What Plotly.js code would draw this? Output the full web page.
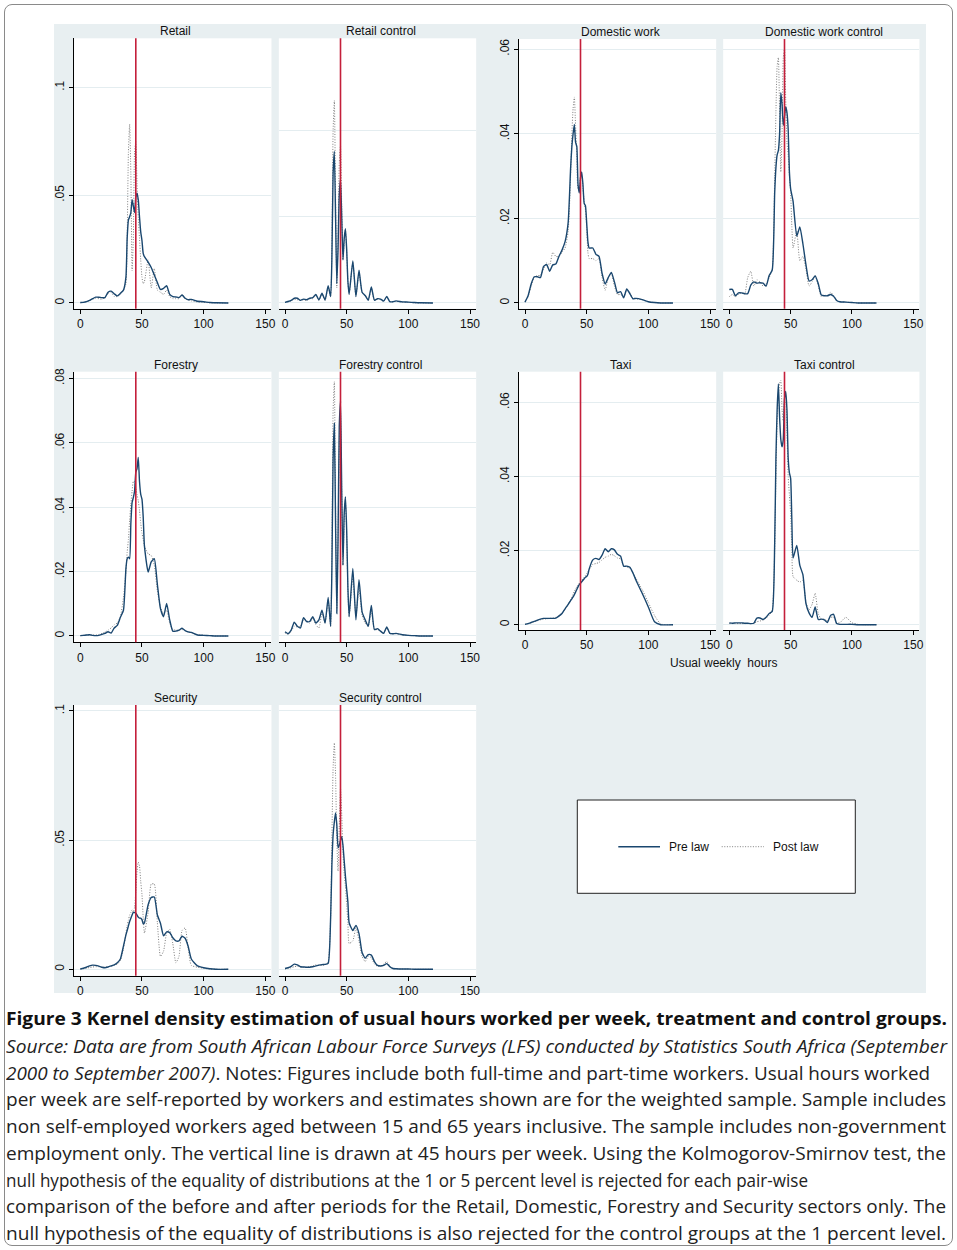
<!DOCTYPE html>
<html><head><meta charset="utf-8">
<script src="https://cdn.plot.ly/plotly-3.0.1.min.js"></script>
<style>
body{margin:0;background:#fff;width:957px;height:1250px;position:relative;overflow:hidden;}
#frame{position:absolute;left:4px;top:4px;width:947px;height:1240px;border:1px solid #8a8a8a;border-radius:8px;}
#bg{position:absolute;left:54px;top:24px;width:872px;height:969px;background:#e8eff1;}
#chart{position:absolute;left:0;top:0;width:957px;height:1005px;}
.cap{position:absolute;left:6px;white-space:nowrap;font-family:'Open Sans',sans-serif;font-size:18.5px;line-height:22px;color:#222;transform-origin:0 50%;}
.cap b{font-weight:700;color:#111;}
</style></head><body>
<div id="frame"></div>
<div id="bg"></div>
<div id="chart"></div>
<div id="caption"></div>
<script>
// ---- data (usual weekly hours grid and kernel density values) ----
const hours = [0,2.5,5,7.5,10,12.5,15,17.5,20,22.5,25,27.5,30,32.5,35,
  37,38,39,40,41,42,43,44,45,46,47,48,49,50,51,52,
  55,57.5,60,62.5,65,67.5,70,72.5,75,77.5,80,82.5,85,87.5,90,
  95,100,105,110,120];

const retailPre = [0.0002,0.0003,0.0006,0.0012,0.002,0.0027,0.0027,0.0025,0.0025,0.005,0.0055,0.0043,0.0033,0.0045,0.006,
  0.012,0.03,0.0385,0.04,0.042,0.048,0.045,0.042,0.049,0.051,0.048,0.04,0.033,0.029,0.023,0.0215,
  0.019,0.0165,0.013,0.0095,0.0063,0.0068,0.008,0.004,0.003,0.0028,0.0025,0.0037,0.0022,0.0015,0.0017,
  0.0008,0.0006,0.0002,0.0001,0];
const retailPost = [0.0001,0.0003,0.0006,0.0012,0.0018,0.0022,0.002,0.0018,0.0025,0.0045,0.005,0.003,0.003,0.004,0.006,
  0.009,0.03,0.07,0.083,0.06,0.015,0.03,0.07,0.075,0.055,0.04,0.03,0.02,0.012,0.009,0.01,
  0.02,0.007,0.016,0.006,0.005,0.004,0.006,0.003,0.002,0.002,0.002,0.004,0.002,0.0015,0.001,
  0.0005,0.0003,0.0001,0,0];
const retailCtrlPre = [0.0003,0.0007,0.0012,0.0022,0.0022,0.0012,0.0018,0.0015,0.0022,0.0025,0.004,0.0014,0.0045,0.0014,0.008,
  0.003,0.02,0.06,0.0704,0.04,0.009,0.025,0.05,0.0575,0.04,0.02,0.03,0.0345,0.025,0.01,0.004,
  0.0195,0.003,0.0152,0.005,0.0035,0.0013,0.0074,0.0013,0.002,0.0018,0.0009,0.003,0.0006,0.0006,0.001,
  0.0005,0.0004,0.0002,0.0001,0];
const retailCtrlPost = [0.0002,0.0005,0.001,0.0018,0.0015,0.0012,0.0015,0.0012,0.002,0.002,0.0035,0.0012,0.004,0.0012,0.0075,
  0.003,0.025,0.08,0.094,0.05,0.007,0.03,0.065,0.073,0.045,0.02,0.028,0.034,0.024,0.01,0.004,
  0.019,0.003,0.014,0.005,0.0035,0.0012,0.007,0.0012,0.002,0.0015,0.0008,0.003,0.0006,0.0005,0.0008,
  0.0004,0.0003,0.0001,0,0];
const domesticPre = [0.0002,0.0017,0.0045,0.0062,0.0062,0.006,0.0086,0.0091,0.0075,0.009,0.0092,0.011,0.0125,0.0145,0.019,
  0.032,0.037,0.04,0.0422,0.038,0.037,0.028,0.026,0.0295,0.031,0.028,0.0235,0.023,0.019,0.0145,0.013,
  0.013,0.0115,0.011,0.007,0.0045,0.006,0.0072,0.005,0.0024,0.0027,0.0012,0.0033,0.0022,0.001,0.0011,
  0.0008,0.0003,0.0001,0,0];
const domesticPost = [0.0002,0.0015,0.004,0.006,0.0065,0.0065,0.008,0.0095,0.009,0.012,0.011,0.011,0.012,0.013,0.017,
  0.03,0.04,0.046,0.0487,0.042,0.035,0.027,0.027,0.03,0.03,0.027,0.024,0.022,0.018,0.012,0.0105,
  0.0105,0.01,0.0105,0.006,0.003,0.006,0.007,0.004,0.002,0.002,0.0015,0.0032,0.0025,0.0012,0.001,
  0.0008,0.0003,0.0001,0,0];
const domesticCtrlPre = [0.0032,0.0032,0.0017,0.0024,0.0024,0.0022,0.0022,0.0042,0.005,0.0047,0.0048,0.0047,0.004,0.0065,0.0078,
  0.026,0.032,0.035,0.036,0.04,0.0497,0.047,0.042,0.044,0.0464,0.045,0.041,0.031,0.027,0.0255,0.024,
  0.0158,0.018,0.014,0.009,0.0052,0.0055,0.0064,0.0046,0.0019,0.0017,0.0017,0.002,0.0016,0.0006,0.0003,
  0.0002,0.0001,0,0,0];
const domesticCtrlPost = [0.0015,0.002,0.0015,0.002,0.0025,0.002,0.006,0.0075,0.004,0.0055,0.005,0.004,0.0045,0.006,0.008,
  0.03,0.045,0.056,0.058,0.045,0.031,0.04,0.058,0.06,0.048,0.038,0.035,0.03,0.026,0.018,0.013,
  0.017,0.01,0.011,0.008,0.004,0.005,0.0065,0.004,0.0015,0.0018,0.0018,0.0025,0.0018,0.0005,0.0003,
  0.0002,0.0001,0,0,0];
const forestryPre = [0.0001,0.0002,0.0003,0.0004,0.0002,0.0001,0.0002,0.0005,0.0008,0.0013,0.0009,0.0025,0.0033,0.0058,0.008,
  0.021,0.024,0.0245,0.024,0.035,0.0415,0.043,0.045,0.0508,0.052,0.0555,0.048,0.044,0.0425,0.037,0.028,
  0.0199,0.023,0.024,0.016,0.0085,0.006,0.0101,0.005,0.0015,0.0015,0.0018,0.0024,0.0017,0.0013,0.0011,
  0.0003,0.0002,0.0001,0,0];
const forestryPost = [0.0001,0.0002,0.0003,0.0003,0.0003,0.0003,0.0005,0.0008,0.0012,0.0018,0.0025,0.0035,0.004,0.006,0.012,
  0.02,0.026,0.03,0.036,0.041,0.045,0.048,0.048,0.046,0.044,0.042,0.039,0.035,0.032,0.03,0.028,
  0.0255,0.025,0.022,0.014,0.009,0.007,0.008,0.004,0.002,0.0018,0.0018,0.002,0.0017,0.0012,0.001,
  0.0004,0.0002,0.0001,0,0];
const forestryCtrlPre = [0.0013,0.0007,0.0018,0.0043,0.003,0.0025,0.0057,0.0045,0.0045,0.006,0.004,0.005,0.008,0.004,0.012,
  0.003,0.02,0.055,0.066,0.035,0.007,0.03,0.065,0.073,0.045,0.022,0.038,0.0433,0.033,0.015,0.006,
  0.021,0.005,0.0175,0.0075,0.005,0.003,0.0095,0.002,0.0023,0.0015,0.0008,0.0028,0.0008,0.0007,0.0008,
  0.0004,0.0002,0.0001,0,0];
const forestryCtrlPost = [0.001,0.0005,0.0015,0.003,0.0028,0.003,0.005,0.0048,0.004,0.0055,0.0035,0.0025,0.007,0.004,0.011,
  0.003,0.025,0.07,0.079,0.04,0.008,0.03,0.06,0.07,0.045,0.022,0.036,0.042,0.032,0.014,0.006,
  0.018,0.006,0.015,0.0065,0.004,0.003,0.008,0.002,0.002,0.0015,0.001,0.0025,0.0008,0.0006,0.0007,
  0.0003,0.0002,0.0001,0,0];
const taxiPre = [0.0001,0.0003,0.0006,0.0009,0.0012,0.0015,0.0017,0.0017,0.0017,0.0017,0.0018,0.0023,0.003,0.0043,0.0055,
  0.0065,0.007,0.0075,0.0081,0.0088,0.0095,0.0102,0.0108,0.0112,0.0116,0.012,0.0124,0.0128,0.013,0.0136,0.015,
  0.0175,0.0179,0.0176,0.0188,0.0205,0.0197,0.0205,0.0202,0.019,0.0185,0.0158,0.0158,0.0155,0.014,0.012,
  0.0085,0.0048,0.0008,0,0];
const taxiPost = [0.0001,0.0003,0.0005,0.0008,0.0011,0.0013,0.0015,0.0016,0.0017,0.0018,0.002,0.0025,0.0032,0.0042,0.0055,
  0.0068,0.0075,0.0082,0.009,0.0096,0.0102,0.0107,0.0112,0.0116,0.012,0.0124,0.0128,0.0133,0.0138,0.0143,0.0148,
  0.0163,0.0165,0.0168,0.0175,0.0182,0.0185,0.019,0.0186,0.018,0.0178,0.016,0.0156,0.0152,0.014,0.0125,
  0.0095,0.006,0.0025,0.0002,0];
const taxiCtrlPre = [0.0005,0.0004,0.0005,0.0005,0.0005,0.0004,0.0004,0.0003,0.0004,0.0018,0.0018,0.0014,0.002,0.003,0.0036,
  0.022,0.045,0.058,0.065,0.056,0.05,0.048,0.05,0.061,0.063,0.058,0.045,0.041,0.0395,0.028,0.018,
  0.0214,0.016,0.0135,0.0057,0.0032,0.002,0.0048,0.0014,0.0015,0.0013,0.0006,0.0025,0.0028,0.0003,0.0001,
  0.0001,0.0001,0,0,0];
const taxiCtrlPost = [0.0003,0.0003,0.0003,0.0003,0.0003,0.0003,0.0003,0.0003,0.0004,0.0008,0.001,0.0012,0.0018,0.0025,0.004,
  0.02,0.04,0.055,0.062,0.065,0.066,0.058,0.055,0.06,0.06,0.052,0.04,0.035,0.03,0.02,0.013,
  0.012,0.0115,0.012,0.006,0.004,0.0055,0.0085,0.003,0.0015,0.0015,0.001,0.002,0.002,0.0005,0.0005,
  0.002,0.0005,0.0001,0,0];
const securityPre = [0.0001,0.0004,0.0008,0.0013,0.0016,0.0015,0.0012,0.0008,0.0006,0.0009,0.0013,0.0017,0.0025,0.004,0.009,
  0.0133,0.015,0.0168,0.0185,0.0198,0.021,0.022,0.022,0.0218,0.021,0.0202,0.0198,0.0198,0.0192,0.0176,0.018,
  0.025,0.0278,0.028,0.021,0.0178,0.013,0.0145,0.0142,0.0122,0.011,0.011,0.0128,0.012,0.0088,0.004,
  0.0013,0.0006,0.0002,0,0];
const securityPost = [0.0001,0.0002,0.0004,0.0007,0.0009,0.001,0.001,0.0008,0.0008,0.001,0.0012,0.0015,0.002,0.0035,0.008,
  0.014,0.017,0.019,0.021,0.022,0.023,0.022,0.024,0.03,0.038,0.0415,0.04,0.034,0.029,0.02,0.014,
  0.022,0.033,0.033,0.018,0.005,0.007,0.014,0.0155,0.01,0.0025,0.005,0.015,0.016,0.008,0.0015,
  0.0008,0.0004,0.0001,0,0];
const securityCtrlPre = [0.0003,0.0006,0.0011,0.002,0.0017,0.001,0.0009,0.0008,0.0008,0.001,0.0013,0.0016,0.0018,0.0019,0.0023,
  0.02,0.04,0.052,0.057,0.0605,0.056,0.047,0.048,0.05,0.0513,0.048,0.042,0.036,0.031,0.026,0.018,
  0.015,0.017,0.0138,0.0065,0.0043,0.0057,0.0055,0.003,0.0015,0.0013,0.0015,0.0022,0.001,0.0003,0.0002,
  0.0001,0.0001,0,0,0];
const securityCtrlPost = [0.0001,0.0003,0.0006,0.001,0.0012,0.001,0.0008,0.0008,0.001,0.0013,0.0018,0.0015,0.0015,0.0018,0.003,
  0.02,0.05,0.078,0.0876,0.075,0.05,0.038,0.055,0.07,0.06,0.045,0.037,0.032,0.025,0.018,0.01,
  0.011,0.016,0.011,0.005,0.003,0.005,0.0045,0.002,0.0012,0.0012,0.002,0.003,0.0012,0.0003,0.0002,
  0.0001,0.0001,0,0,0];

const panelTitles = ['Retail','Retail control','Domestic work','Domestic work control','Forestry','Forestry control','Taxi','Taxi control','Security','Security control'];
const xTicks = [0,50,100,150];
const lawHours = 45;
const seriesNames = ['Pre law','Post law'];
const xAxisTitle = 'Usual weekly\u00a0 hours';

// ---- geometry (pixels on the page) ----
const DIV = {left:0, top:0, w:957, h:1005};
const fx = p => (p - DIV.left) / DIV.w;
const fy = p => 1 - (p - DIV.top) / DIV.h;

const yLeft1 = {top:38.3, bot:308.7, range:[-0.00265,0.1229]};
const yRight1 = {top:39, bot:308.7, range:[-0.00135,0.0624]};
const yLeft2 = {top:371.7, bot:642.3, range:[-0.00196,0.0821]};
const yRight2 = {top:371.7, bot:630, range:[-0.00143,0.0683]};
const yLeft3 = {top:705, bot:975.7, range:[-0.00248,0.1023]};
const colA = [80.3,265.3], colB = [285,470], colC = [525,710], colD = [729.3,913.3];

const panels = [
  {pre:retailPre, post:retailPost, col:colA, row:yLeft1, ticks:[0,0.05,0.1], labels:['0','.05','.1'], showY:true},
  {pre:retailCtrlPre, post:retailCtrlPost, col:colB, row:yLeft1, ticks:[0,0.04,0.08], labels:['','',''], showY:false},
  {pre:domesticPre, post:domesticPost, col:colC, row:yRight1, ticks:[0,0.02,0.04,0.06], labels:['0','.02','.04','.06'], showY:true},
  {pre:domesticCtrlPre, post:domesticCtrlPost, col:colD, row:yRight1, ticks:[0,0.02,0.04,0.06], labels:['','','',''], showY:false},
  {pre:forestryPre, post:forestryPost, col:colA, row:yLeft2, ticks:[0,0.02,0.04,0.06,0.08], labels:['0','.02','.04','.06','.08'], showY:true},
  {pre:forestryCtrlPre, post:forestryCtrlPost, col:colB, row:yLeft2, ticks:[0,0.02,0.04,0.06,0.08], labels:['','','','',''], showY:false},
  {pre:taxiPre, post:taxiPost, col:colC, row:yRight2, ticks:[0,0.02,0.04,0.06], labels:['0','.02','.04','.06'], showY:true},
  {pre:taxiCtrlPre, post:taxiCtrlPost, col:colD, row:yRight2, ticks:[0,0.02,0.04,0.06], labels:['','','',''], showY:false},
  {pre:securityPre, post:securityPost, col:colA, row:yLeft3, ticks:[0,0.05,0.1], labels:['0','.05','.1'], showY:true},
  {pre:securityCtrlPre, post:securityCtrlPost, col:colB, row:yLeft3, ticks:[0,0.05,0.1], labels:['','',''], showY:false}
];

const NAVY = '#1a476f', DOT = '#808080', RED = '#c41f3b', GRID = '#e4edf0';
const DOTDASH = '1px,1.6px';
const FONT = {family:'Liberation Sans, Arial, sans-serif', size:12, color:'#111'};

const data = [];
const layout = {
  width: DIV.w, height: DIV.h,
  margin:{l:0,r:0,t:0,b:0},
  paper_bgcolor:'rgba(0,0,0,0)', plot_bgcolor:'#ffffff',
  showlegend:false, font:FONT,
  shapes:[], annotations:[]
};

panels.forEach((p, i) => {
  const n = i + 1, s = n === 1 ? '' : String(n);
  const k = (p.col[1] - p.col[0]) / 150;
  const left = p.col[0] - 5 * k, right = p.col[1] + 5 * k;
  layout['xaxis' + s] = {
    domain:[fx(left), fx(right)], range:[-5,155], anchor:'y' + s,
    tickvals:xTicks, ticks:'outside', ticklen:4, tickwidth:1, tickcolor:'#000',
    showline:true, linecolor:'#000', linewidth:1, showgrid:false, zeroline:false,
    tickfont:FONT, fixedrange:true
  };
  layout['yaxis' + s] = {
    domain:[fy(p.row.bot), fy(p.row.top)], range:p.row.range, anchor:'x' + s,
    tickvals:p.ticks, ticktext:p.labels, tickangle:-90,
    showticklabels:p.showY, ticks:p.showY ? 'outside' : '', ticklen:4, tickcolor:'#000',
    showline:p.showY, linecolor:'#000', linewidth:1,
    showgrid:true, gridcolor:GRID, gridwidth:1, zeroline:false,
    tickfont:FONT, fixedrange:true
  };
  data.push({x:hours, y:p.post, xaxis:'x' + s, yaxis:'y' + s, type:'scatter', mode:'lines',
    name:seriesNames[1], line:{color:DOT, width:1, dash:DOTDASH, shape:'spline', smoothing:0.5}, hoverinfo:'skip'});
  data.push({x:hours, y:p.pre, xaxis:'x' + s, yaxis:'y' + s, type:'scatter', mode:'lines',
    name:seriesNames[0], line:{color:NAVY, width:1.4, shape:'spline', smoothing:0.5}, hoverinfo:'skip'});
  layout.shapes.push({type:'line', xref:'x' + s, yref:'y' + s + ' domain', x0:lawHours, x1:lawHours, y0:0, y1:1,
    line:{color:RED, width:1.6}});
  layout.annotations.push({text:panelTitles[i], xref:'paper', yref:'paper',
    x:fx((left + right) / 2 + 3), y:fy(p.row.top - 7), xanchor:'center', yanchor:'middle',
    showarrow:false, font:FONT});
});

// x-axis title for the right-hand graph
layout.annotations.push({text:xAxisTitle, xref:'paper', yref:'paper', x:fx(723), y:fy(662.7),
  xanchor:'center', yanchor:'middle', showarrow:false, font:FONT});

// legend box
layout.shapes.push({type:'rect', xref:'paper', yref:'paper', x0:fx(577.3), x1:fx(855.3), y0:fy(893.3), y1:fy(800),
  fillcolor:'#ffffff', line:{color:'#222', width:1}, layer:'above'});
layout.shapes.push({type:'line', xref:'paper', yref:'paper', x0:fx(618.3), x1:fx(660), y0:fy(846.7), y1:fy(846.7),
  line:{color:NAVY, width:1.4}});
layout.shapes.push({type:'line', xref:'paper', yref:'paper', x0:fx(721.7), x1:fx(764), y0:fy(846.7), y1:fy(846.7),
  line:{color:DOT, width:1, dash:DOTDASH}});
layout.annotations.push({text:seriesNames[0], xref:'paper', yref:'paper', x:fx(666.7), y:fy(846.7),
  xanchor:'left', yanchor:'middle', showarrow:false, font:FONT});
layout.annotations.push({text:seriesNames[1], xref:'paper', yref:'paper', x:fx(770.7), y:fy(846.7),
  xanchor:'left', yanchor:'middle', showarrow:false, font:FONT});

Plotly.newPlot('chart', data, layout, {staticPlot:true, displayModeBar:false});

// ---- caption ----
const captionLines = [
  '<b>Figure 3 Kernel density estimation of usual hours worked per week, treatment and control groups.</b>',
  '<i>Source: Data are from South African Labour Force Surveys (LFS) conducted by Statistics South Africa (September</i>',
  '<i>2000 to September 2007)</i>. Notes: Figures include both full-time and part-time workers. Usual hours worked',
  'per week are self-reported by workers and estimates shown are for the weighted sample. Sample includes',
  'non self-employed workers aged between 15 and 65 years inclusive. The sample includes non-government',
  'employment only. The vertical line is drawn at 45 hours per week. Using the Kolmogorov-Smirnov test, the',
  'null hypothesis of the equality of distributions at the 1 or 5 percent level is rejected for each pair-wise',
  'comparison of the before and after periods for the Retail, Domestic, Forestry and Security sectors only. The',
  'null hypothesis of the equality of distributions is also rejected for the control groups at the 1 percent level.'
];
const captionY = [1018, 1046, 1072.5, 1099, 1126, 1152.5, 1179.5, 1206, 1232.5];
const captionRight = [947, 947, 930, 946, 946, 946, 808, 946, 946];
const capBox = document.getElementById('caption');
const capEls = captionLines.map((t, i) => {
  const d = document.createElement('div');
  d.className = 'cap';
  d.innerHTML = t;
  d.style.top = (captionY[i] - 11) + 'px';
  capBox.appendChild(d);
  return d;
});
function fitCaption(){
  capEls.forEach((d, i) => {
    d.style.transform = 'none';
    const w = d.getBoundingClientRect().width;
    if (w > 0) d.style.transform = 'scaleX(' + ((captionRight[i] - 6) / w) + ')';
  });
}
fitCaption();
if (document.fonts && document.fonts.ready) document.fonts.ready.then(fitCaption);
</script>
</body></html>
